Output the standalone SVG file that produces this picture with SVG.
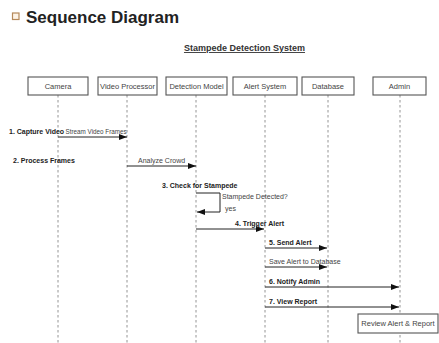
<svg xmlns="http://www.w3.org/2000/svg" width="439" height="343" viewBox="0 0 439 343">
<defs>
<style>
.box{fill:#fff;stroke:#555;stroke-width:1.1}
.pl{font-family:"Liberation Sans",Arial,sans-serif;font-size:7.5px;fill:#444;text-anchor:middle}
.life{stroke:#888;stroke-width:0.9;stroke-dasharray:2.5,2.5;fill:none}
.msg{stroke:#222;stroke-width:1;fill:none}
.b{font-family:"Liberation Sans",Arial,sans-serif;font-size:7px;font-weight:bold;fill:#222}
.n{font-family:"Liberation Sans",Arial,sans-serif;font-size:7px;fill:#444}
</style>
<marker id="ah" markerWidth="8" markerHeight="6" refX="8" refY="3" orient="auto" markerUnits="userSpaceOnUse">
<path d="M0,0 L8,3 L0,6 Z" fill="#111"/>
</marker>
</defs>
<rect width="439" height="343" fill="#fff"/>
<g id="header">
<rect x="12.5" y="13" width="6.5" height="6.5" fill="#fdf3e6" stroke="#b5895a" stroke-width="1.2"/>
<text x="26" y="23" font-family="Liberation Sans,Arial,sans-serif" font-size="17" font-weight="bold" fill="#222">Sequence Diagram</text>
<text x="244.5" y="51" font-family="Liberation Sans,Arial,sans-serif" font-size="9" font-weight="bold" fill="#333" text-anchor="middle" text-decoration="underline">Stampede Detection System</text>
</g>
<g id="lifelines">
<line class="life" x1="58" y1="95" x2="58" y2="343"/>
<line class="life" x1="127" y1="95" x2="127" y2="343"/>
<line class="life" x1="196" y1="95" x2="196" y2="343"/>
<line class="life" x1="265" y1="95" x2="265" y2="343"/>
<line class="life" x1="328" y1="95" x2="328" y2="343"/>
<line class="life" x1="400" y1="95" x2="400" y2="343"/>
</g>
<g id="camera"><rect class="box" x="28" y="77" width="60" height="18"/><text class="pl" x="58" y="89">Camera</text></g>
<g id="video-processor"><rect class="box" x="98" y="77" width="59" height="18"/><text class="pl" x="127.5" y="89">Video Processor</text></g>
<g id="detection-model"><rect class="box" x="166" y="77" width="61" height="18"/><text class="pl" x="196.5" y="89">Detection Model</text></g>
<g id="alert-system"><rect class="box" x="233" y="77" width="64" height="18"/><text class="pl" x="265" y="89">Alert System</text></g>
<g id="database"><rect class="box" x="302" y="77" width="52" height="18"/><text class="pl" x="328" y="89">Database</text></g>
<g id="admin"><rect class="box" x="373" y="77" width="53" height="18"/><text class="pl" x="399.5" y="89">Admin</text></g>
<g id="connectors">
<line class="msg" x1="58" y1="137" x2="127" y2="137" marker-end="url(#ah)"/>
<line class="msg" x1="127" y1="166" x2="196" y2="166" marker-end="url(#ah)"/>
<polyline class="msg" points="196,193 220,193 220,212 197,212" marker-end="url(#ah)"/>
<line class="msg" x1="196" y1="229" x2="264" y2="229" marker-end="url(#ah)"/>
<line class="msg" x1="265" y1="248" x2="327" y2="248" marker-end="url(#ah)"/>
<line class="msg" x1="265" y1="267" x2="327" y2="267" marker-end="url(#ah)"/>
<line class="msg" x1="265" y1="287" x2="399" y2="287" marker-end="url(#ah)"/>
<line class="msg" x1="265" y1="307" x2="399" y2="307" marker-end="url(#ah)"/>
</g>
<g id="labels">
<text class="b" x="9" y="134">1. Capture Video</text>
<text class="n" x="65.5" y="134" style="font-size:6.3px">Stream Video Frames</text>
<text class="b" x="13" y="163">2. Process Frames</text>
<text class="n" x="138" y="163">Analyze Crowd</text>
<text class="b" x="162" y="188">3. Check for Stampede</text>
<text class="n" x="222" y="199">Stampede Detected?</text>
<text class="n" x="225" y="211">yes</text>
<text class="b" x="235" y="226">4. Trigger Alert</text>
<text class="b" x="269" y="245">5. Send Alert</text>
<text class="n" x="269" y="264">Save Alert to Database</text>
<text class="b" x="269" y="284">6. Notify Admin</text>
<text class="b" x="269" y="304">7. View Report</text>
</g>
<g id="review-note"><rect class="box" x="358" y="314" width="80" height="19"/><text class="pl" x="398" y="326">Review Alert &amp; Report</text></g>
</svg>
